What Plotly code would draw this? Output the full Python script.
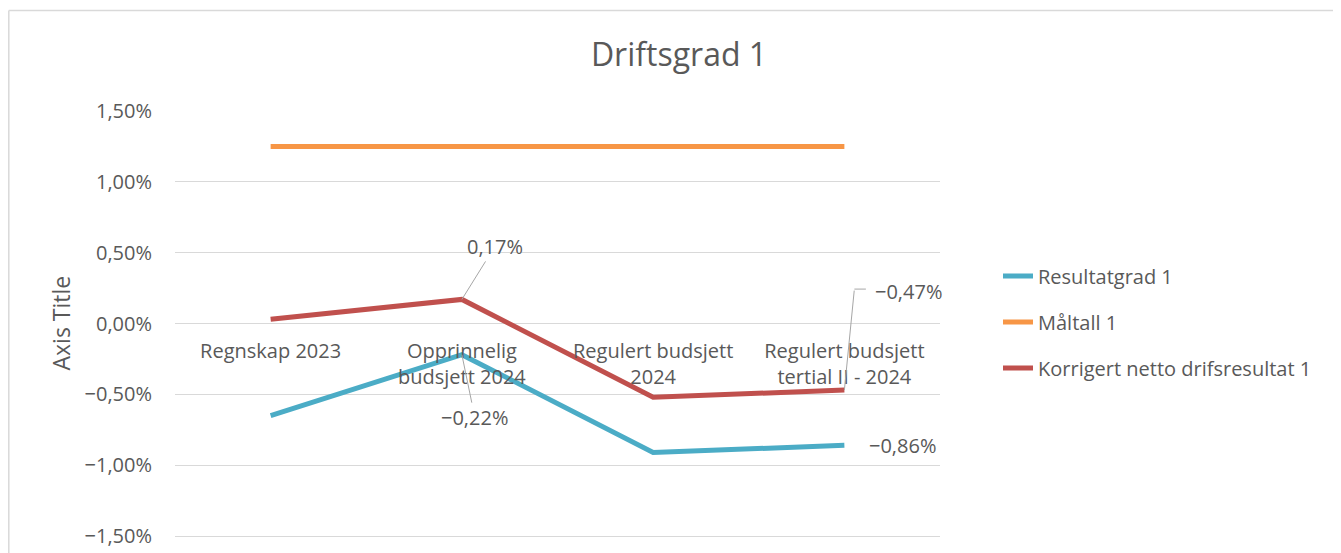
import plotly.graph_objects as go

categories = ["Regnskap 2023", "Opprinnelig<br>budsjett 2024", "Regulert budsjett<br>2024", "Regulert budsjett<br>tertial II - 2024"]
resultatgrad = [-0.0065, -0.0022, -0.0091, -0.0086]
maaltall = [0.0125, 0.0125, 0.0125, 0.0125]
korrigert = [0.0003, 0.0017, -0.0052, -0.0047]

series_names = ["Resultatgrad 1", "Måltall 1", "Korrigert netto drifsresultat 1"]
series_colors = ["#4BACC6", "#F79646", "#C0504D"]

# page body has an 8px margin; figure coordinates below are page coords - 8
W, H = 1333, 545
L, R, T, B = 167, 401, 103, 0
ymin, ymax = -0.0162, 0.015
FONT = "Open Sans"
TXT = "#595959"

fig = go.Figure()
for name, vals, col in zip(series_names, [resultatgrad, maaltall, korrigert], series_colors):
    fig.add_trace(go.Scatter(x=list(range(len(categories))), y=vals, mode="lines", name=name,
                             legendgroup=name,
                             line=dict(color=col, width=5)))

pos0 = (0 - ymin) / (ymax - ymin)
pw, ph = W - L - R, H - T - B


def px(xp):
    return (xp - L) / pw


def py(yp):
    return (H - B - yp) / ph


fig.update_layout(
    template="none",
    width=W, height=H,
    margin=dict(l=L, r=R, t=T, b=B),
    separators=",.",
    paper_bgcolor="white", plot_bgcolor="white",
    font=dict(family=FONT, size=20, color=TXT),
    title=dict(text="Driftsgrad 1", x=671 / W, xref="container", xanchor="center",
               y=1 - 47 / H, yref="container", yanchor="middle",
               font=dict(family=FONT, size=32, color=TXT)),
    showlegend=True,
    legend=dict(x=px(990), xanchor="left", y=py(314), yanchor="middle",
                font=dict(family=FONT, size=20, color=TXT), tracegroupgap=17,
                traceorder="grouped", bgcolor="rgba(0,0,0,0)"),
    xaxis=dict(range=[-0.5, 3.5], tickmode="array", tickvals=list(range(len(categories))),
               ticktext=categories, showgrid=False, zeroline=False, showline=False,
               ticks="", anchor="free", position=pos0, automargin=False,
               tickfont=dict(family=FONT, size=20, color=TXT), ticklabelstandoff=13),
    yaxis=dict(range=[ymin, ymax], tickmode="array",
               tickvals=[-0.015, -0.01, -0.005, 0, 0.005, 0.01, 0.015],
               tickformat=".2%", showgrid=True, gridcolor="#D9D9D9", gridwidth=1,
               zeroline=False, showline=False, ticks="", automargin=False,
               ticklabelstandoff=22,
               tickfont=dict(family=FONT, size=20, color=TXT)),
)

# axis title (centred on the full Excel plot area, i.e. at the zero line)
fig.add_annotation(text="Axis Title", textangle=-90, xref="paper", x=px(52), xanchor="center",
                   yref="y", y=0, yanchor="middle", showarrow=False,
                   font=dict(family=FONT, size=23, color=TXT))

# chart border (top and left visible)
fig.add_shape(type="line", xref="paper", yref="paper", x0=px(0.8), x1=px(1340), y0=py(2.5), y1=py(2.5),
              line=dict(color="#D9D9D9", width=1.5))
fig.add_shape(type="line", xref="paper", yref="paper", x0=px(0.8), x1=px(0.8), y0=py(2.5), y1=py(560),
              line=dict(color="#D9D9D9", width=1.5))

lead = "#A6A6A6"
labfont = dict(family=FONT, size=20, color=TXT)
# data labels
fig.add_annotation(x=1, y=korrigert[1], text="0,17%", showarrow=True, arrowhead=0, arrowwidth=1,
                   arrowcolor=lead, ax=33, ay=-53, font=labfont)
fig.add_annotation(x=1, y=resultatgrad[1], text="−0,22%", showarrow=True, arrowhead=0, arrowwidth=1,
                   arrowcolor=lead, ax=13, ay=63, font=labfont)
fig.add_annotation(x=3, y=resultatgrad[3], text="−0,86%", showarrow=False, xshift=58, yshift=0, font=labfont)
# -0,47% with elbow leader line
fig.add_annotation(x=3, y=korrigert[3], text="−0,47%", showarrow=False, xshift=64, yshift=99, font=labfont)
fig.add_annotation(x=3, y=korrigert[3], text="", showarrow=True, arrowhead=0, arrowwidth=1,
                   arrowcolor=lead, ax=10, ay=-101, standoff=0, startstandoff=0)
fig.add_annotation(x=3, y=korrigert[3], text="", showarrow=True, arrowhead=0, arrowwidth=1,
                   arrowcolor=lead, ax=13, ay=0, xshift=10, yshift=101, standoff=0)

fig.write_html("out.html")
